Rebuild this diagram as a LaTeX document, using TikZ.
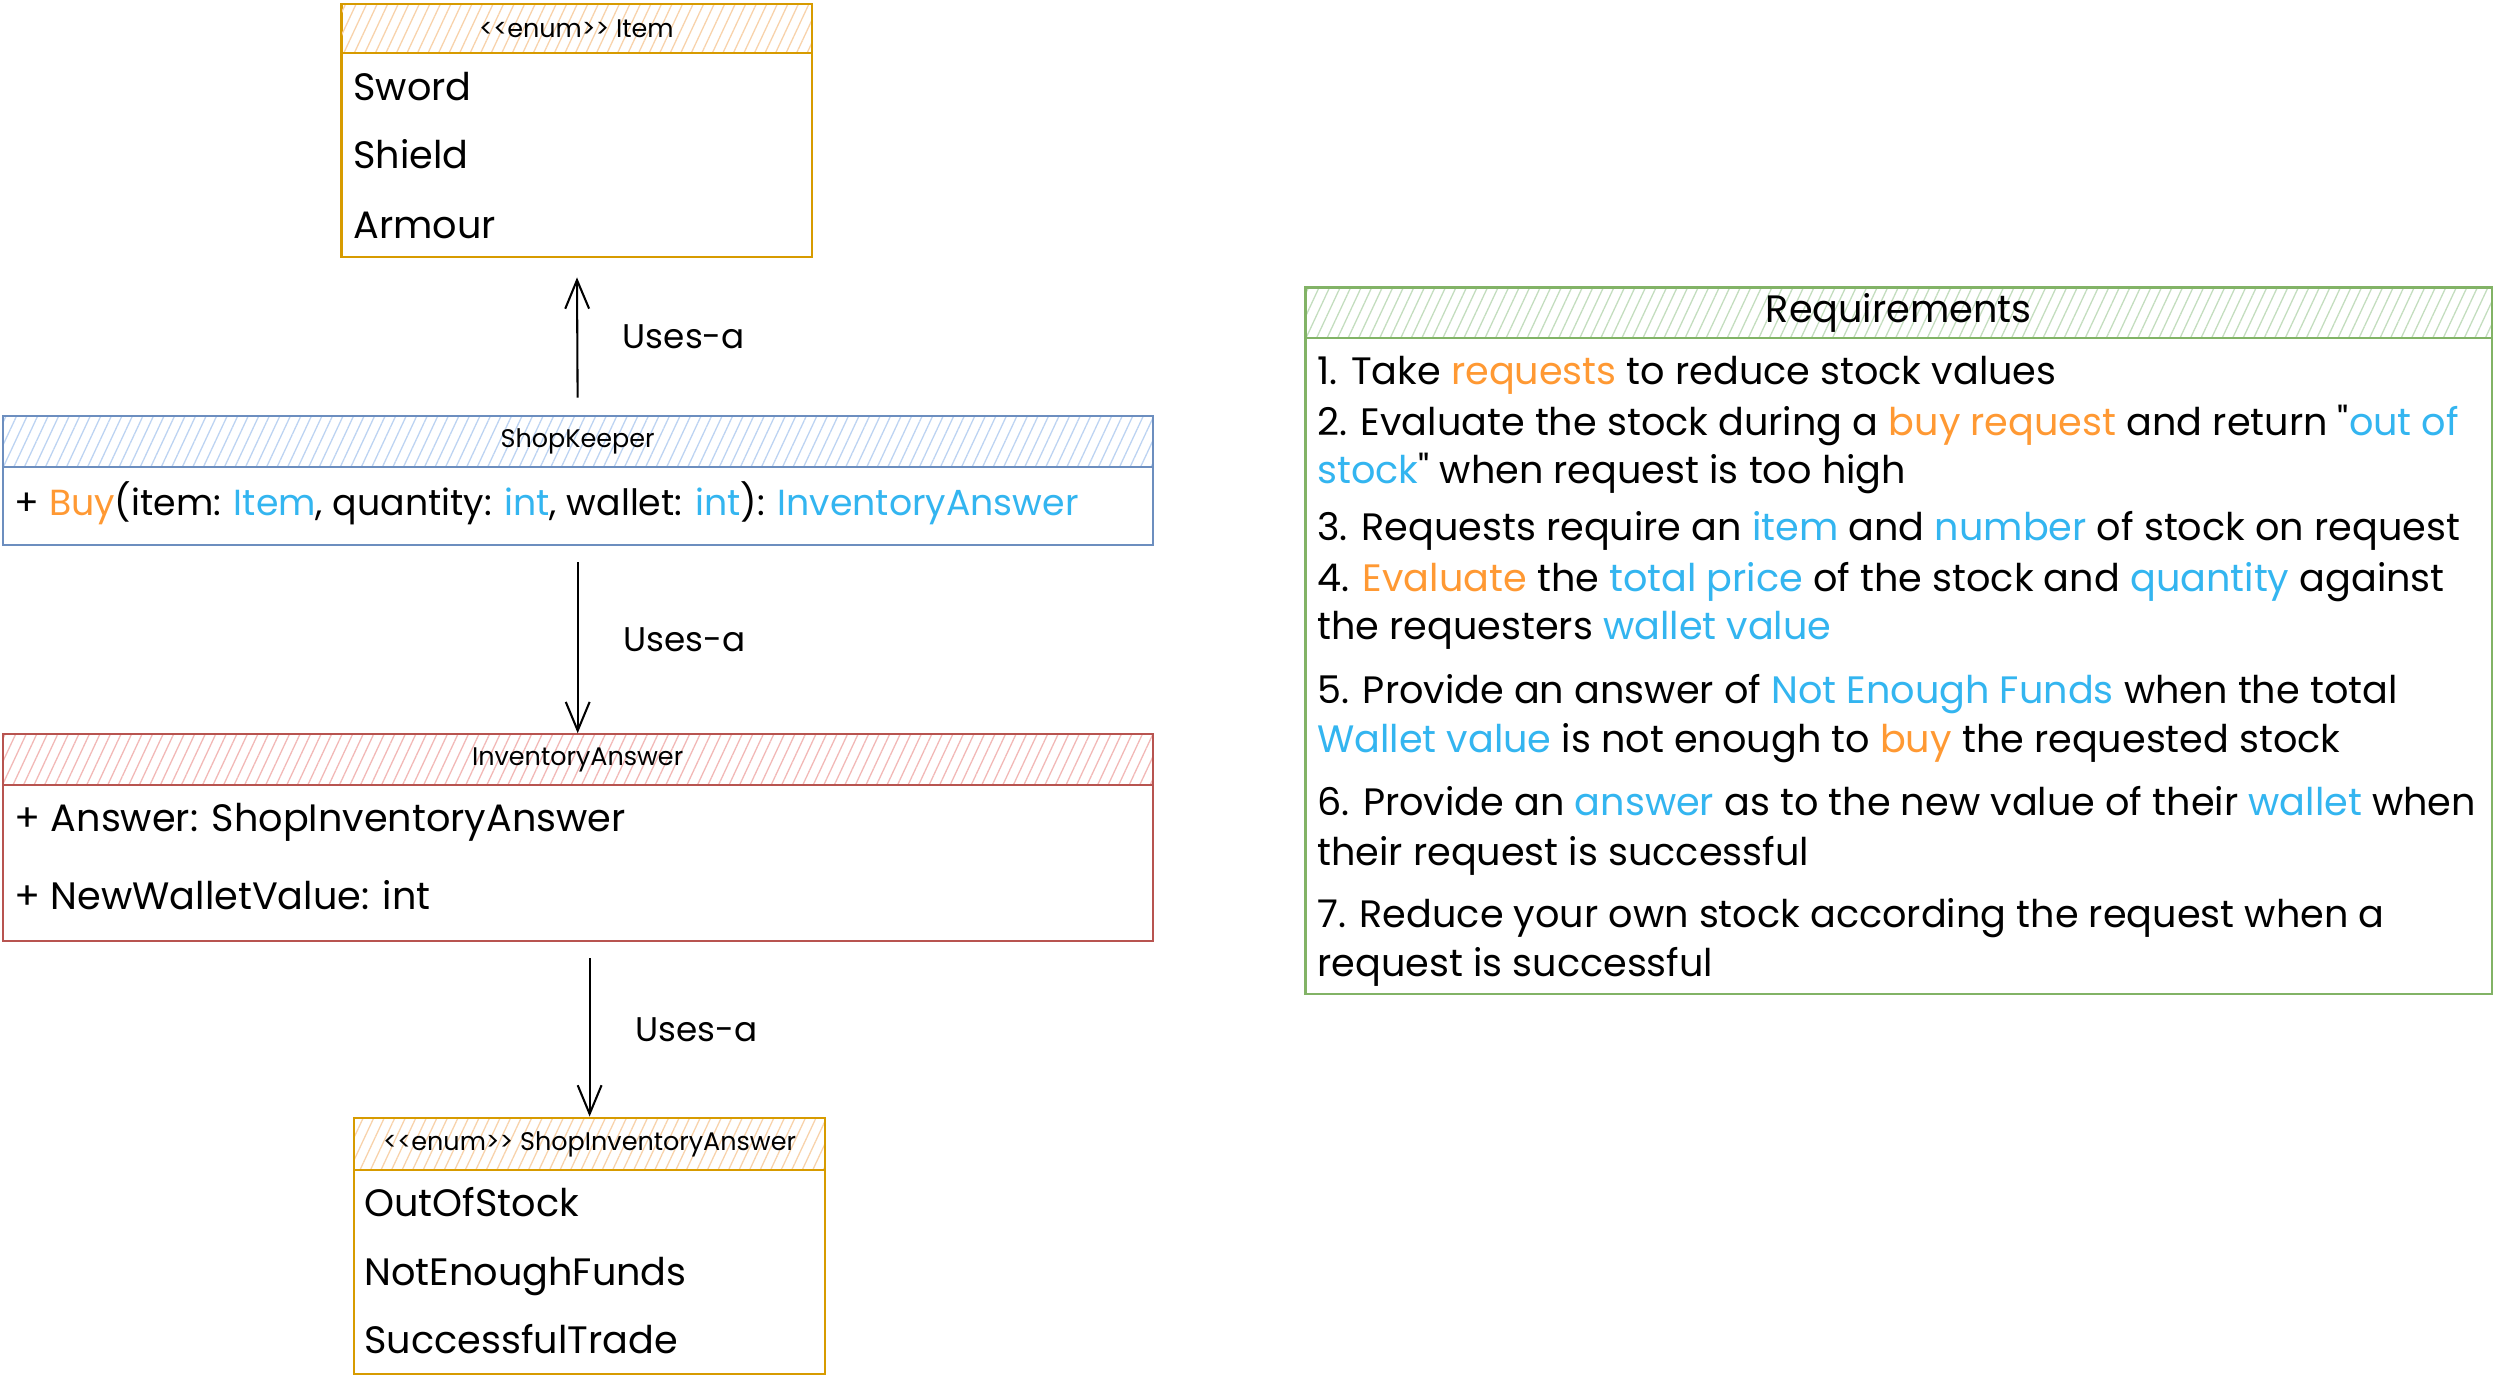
\documentclass[tikz,border=0pt]{standalone}
\usepackage{fontspec}
\setmainfont{Poppins}
\usetikzlibrary{arrows.meta,patterns.meta,positioning}

\definecolor{enumline}{HTML}{D79B00}
\definecolor{enumhatch}{HTML}{F8D2AA}
\definecolor{keepline}{HTML}{6C8EBF}
\definecolor{keephatch}{HTML}{BCD3F2}
\definecolor{answerline}{HTML}{B85450}
\definecolor{answerhatch}{HTML}{F2B8B6}
\definecolor{reqline}{HTML}{82B366}
\definecolor{reqhatch}{HTML}{C3DDBE}
\definecolor{hiorange}{HTML}{FF9933}
\definecolor{hiblue}{HTML}{33B5F0}

\newcommand{\ho}[1]{\textcolor{hiorange}{#1}}
\newcommand{\hb}[1]{\textcolor{hiblue}{#1}}

\tikzset{shorten > = 0pt,shorten < = 0pt,
	classbox/.style={draw,line width=1.4pt,inner sep=0pt,anchor=north west},
	classhead/.style={classbox,pattern={Lines[angle=65,distance=6pt,line width=.8pt]},
		font=\fontsize{16}{18}\selectfont},
	rowtext/.style={anchor=base west,inner sep=0pt,font=\fontsize{24}{28}\selectfont},
	uses/.style={-{Straight Barb[length=18pt,width=15pt,line width=1.3pt]},line width=1.3pt},
	useslabel/.style={midway,right=28pt,inner sep=0pt,font=\fontsize{21.5}{26}\selectfont}}

\begin{document}
\begin{tikzpicture}[x=1pt,y=-1pt]
	\fill[white] (0,0) rectangle (1568,866);
	\useasboundingbox (0,0) rectangle (1568,866);

	% enum Item
	\node[classbox,draw=enumline,minimum width=296pt,minimum height=159pt] (item) at (214,2) {};
	\node[classhead,draw=enumline,pattern color=enumhatch,minimum width=296pt,minimum height=31pt]
		(item-head) at (item.north west) {<{}<enum>{}> Item};
	\foreach \name/\y in {Sword/63,Shield/106,Armour/150}
		\node[rowtext] (item-\name) at (222,\y) {\name};

	% ShopKeeper
	\node[classbox,draw=keepline,minimum width=723pt,minimum height=81pt] (keeper) at (1,261) {};
	\node[classhead,draw=keepline,pattern color=keephatch,minimum width=723pt,minimum height=32pt]
		(keeper-head) at (keeper.north west) {ShopKeeper};
	\node[rowtext,font=\fontsize{22.8}{28}\selectfont] (keeper-buy) at (9,324)
		{+ \ho{Buy}(item: \hb{Item}, quantity: \hb{int}, wallet: \hb{int}): \hb{InventoryAnswer}};

	% InventoryAnswer
	\node[classbox,draw=answerline,minimum width=723pt,minimum height=130pt] (answer) at (1,461) {};
	\node[classhead,draw=answerline,pattern color=answerhatch,minimum width=723pt,minimum height=32pt]
		(answer-head) at (answer.north west) {InventoryAnswer};
	\node[rowtext] (answer-answer) at (9,523) {+ Answer: ShopInventoryAnswer};
	\node[rowtext] (answer-wallet) at (9,572) {+ NewWalletValue: int};

	% enum ShopInventoryAnswer
	\node[classbox,draw=enumline,minimum width=296pt,minimum height=161pt] (trade) at (222,702) {};
	\node[classhead,draw=enumline,pattern color=enumhatch,minimum width=296pt,minimum height=33pt]
		(trade-head) at (trade.north west) {<{}<enum>{}> ShopInventoryAnswer};
	\foreach \name/\y in {OutOfStock/765,NotEnoughFunds/808,SuccessfulTrade/851}
		\node[rowtext] (trade-\name) at (229,\y) {\name};

	% uses-a links
	\draw[uses,shorten <=11pt,shorten >=12pt] (keeper.north) -- node[useslabel]{Uses-a} (item.south);
	\draw[uses,shorten <=10pt] (keeper.south) -- node[useslabel]{Uses-a} (answer.north);
	\draw[uses,shorten <=10pt] (answer.south -| trade.north) -- node[useslabel]{Uses-a} (trade.north);

	% Requirements
	\node[classbox,draw=reqline,minimum width=746pt,minimum height=444pt] (req) at (820,180) {};
	\node[classhead,draw=reqline,pattern color=reqhatch,minimum width=746pt,minimum height=32pt,
		font=\fontsize{24}{28}\selectfont] (req-head) at (req.north west) {Requirements};
	\foreach \y/\txt [count=\i] in {
		242/{1. Take \ho{requests} to reduce stock values},
		274/{2. Evaluate the stock during a \ho{buy request} and return \textquotedbl\hb{out of}},
		304/{\hb{stock}\textquotedbl{} when request is too high},
		340/{3. Requests require an \hb{item} and \hb{number} of stock on request},
		372/{4. \ho{Evaluate} the \hb{total price} of the stock and \hb{quantity} against},
		402/{the requesters \hb{wallet value}},
		442/{5. Provide an answer of \hb{Not Enough Funds} when the total},
		473/{\hb{Wallet value} is not enough to \ho{buy} the requested stock},
		513/{6. Provide an \hb{answer} as to the new value of their \hb{wallet} when},
		544/{their request is successful},
		583/{7. Reduce your own stock according the request when a},
		614/{request is successful}}
		\node[rowtext] (req-\i) at (828,\y) {\txt};
\end{tikzpicture}
\end{document}
